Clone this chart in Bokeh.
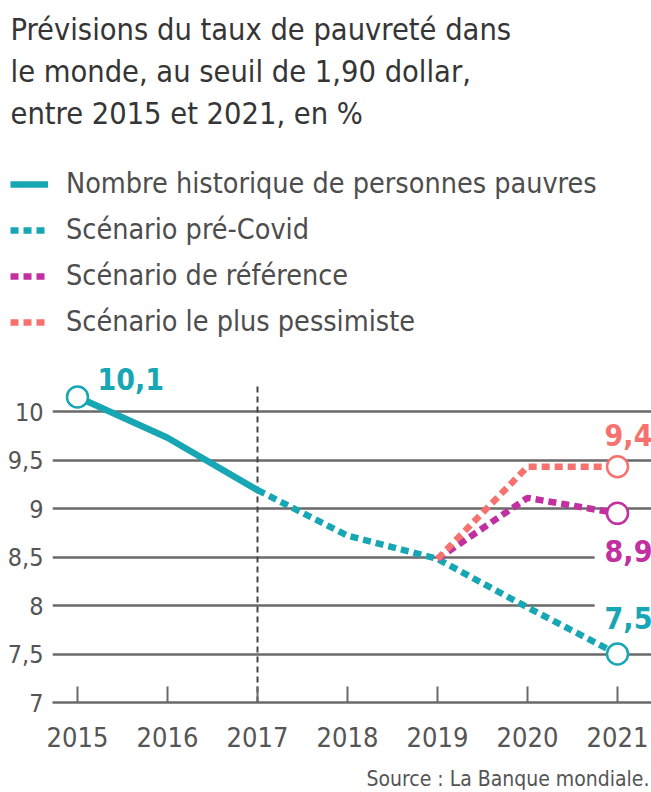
from bokeh.plotting import figure
from bokeh.layouts import column
from bokeh.models import Range1d, FixedTicker, Label, Legend, LegendItem
from bokeh.core.properties import value
from bokeh.embed import file_html
from bokeh.resources import INLINE

# ---------------- data ----------------
title_lines = ["Prévisions du taux de pauvreté dans",
               "le monde, au seuil de 1,90 dollar,",
               "entre 2015 et 2021, en %"]
legend_labels = ["Nombre historique de personnes pauvres",
                 "Scénario pré-Covid",
                 "Scénario de référence",
                 "Scénario le plus pessimiste"]
source_text = "Source : La Banque mondiale."

years_hist = [2015, 2016, 2017]
historical = [10.15, 9.73, 9.19]
years_pre = [2017, 2018, 2019, 2020, 2021]
pre_covid = [9.19, 8.72, 8.48, 7.98, 7.50]
years_scen = [2019, 2020, 2021]
reference = [8.48, 9.11, 8.95]
pessimist = [8.48, 9.43, 9.43]

label_hist = "10,1"
label_pre = "7,5"
label_ref = "8,9"
label_pess = "9,4"

x_ticks = [2015, 2016, 2017, 2018, 2019, 2020, 2021]
y_ticks = [7, 7.5, 8, 8.5, 9, 9.5, 10]
y_tick_labels = ["7", "7,5", "8", "8,5", "9", "9,5", "10"]
split_year = 2017

# ---------------- style ----------------
TEAL = "#17a6b4"
MAGENTA = "#c12fa0"
SALMON = "#f7726e"
GRID = "#6a6a6a"
FONT = "DejaVu Sans Condensed"
W = 651
H_TOP, H_CHART, H_BOT = 348, 412, 32
LW = 6.5
DASH = "8 5"


def blank(h):
    f = figure(width=W, height=h, output_backend="svg", toolbar_location=None,
               x_range=Range1d(0, W), y_range=Range1d(0, h),
               x_axis_type=None, y_axis_type=None,
               min_border=0, min_border_left=0, min_border_right=0,
               min_border_top=0, min_border_bottom=0)
    f.grid.visible = False
    f.outline_line_color = None
    f.background_fill_color = "white"
    f.border_fill_color = "white"
    f.frame_align = False
    return f


# ---------------- header: title + legend ----------------
top = blank(H_TOP)
for i, t in enumerate(title_lines):
    top.add_layout(Label(x=10, y=H_TOP - 29 - 42 * i, text=t, text_font=FONT,
                         text_font_size="30.5px", text_color="#353535",
                         text_baseline="alphabetic"))

# legend sample renderers (kept outside the visible range)
off_x, off_y = [-100, -90], [-100, -100]
lg_hist = top.line(off_x, off_y, line_color=TEAL, line_width=LW)
lg_pre = top.line(off_x, off_y, line_color=TEAL, line_width=LW, line_dash=DASH)
lg_ref = top.line(off_x, off_y, line_color=MAGENTA, line_width=LW, line_dash=DASH)
lg_pess = top.line(off_x, off_y, line_color=SALMON, line_width=LW, line_dash=DASH)
legend = Legend(items=[LegendItem(label=legend_labels[0], renderers=[lg_hist]),
                       LegendItem(label=legend_labels[1], renderers=[lg_pre]),
                       LegendItem(label=legend_labels[2], renderers=[lg_ref]),
                       LegendItem(label=legend_labels[3], renderers=[lg_pess])],
                location=(10, 10), orientation="vertical",
                glyph_width=38, glyph_height=30, label_height=30,
                label_standoff=18, spacing=13, padding=0, margin=0,
                border_line_color=None, background_fill_alpha=0,
                label_text_font=FONT, label_text_font_size="28.5px",
                label_text_color="#4d4d4d")
top.add_layout(legend)

# ---------------- chart ----------------
p = figure(width=W, height=H_CHART, output_backend="svg", toolbar_location=None,
           x_range=Range1d(2014.7222, 2021.3778), y_range=Range1d(7, 10.6495),
           min_border_left=52, min_border_right=0, min_border_top=0,
           min_border_bottom=58)
p.frame_align = False
p.outline_line_color = None
p.background_fill_color = "white"
p.border_fill_color = "white"

p.xaxis.ticker = FixedTicker(ticks=x_ticks)
p.xaxis.axis_line_color = GRID
p.xaxis.axis_line_width = 2.5
p.xaxis.major_tick_in = 16
p.xaxis.major_tick_out = 0
p.xaxis.major_tick_line_color = GRID
p.xaxis.major_tick_line_width = 2
p.xaxis.minor_tick_line_color = None
p.xaxis.major_label_text_font = FONT
p.xaxis.major_label_text_font_size = "27px"
p.xaxis.major_label_text_color = "#555555"
p.xaxis.major_label_standoff = 24

p.yaxis.ticker = FixedTicker(ticks=y_ticks)
p.yaxis.major_label_overrides = {t: l for t, l in zip(y_ticks, y_tick_labels)}
p.yaxis.axis_line_color = None
p.yaxis.major_tick_line_color = None
p.yaxis.minor_tick_line_color = None
p.yaxis.major_label_text_font = FONT
p.yaxis.major_label_text_font_size = "25px"
p.yaxis.major_label_text_color = "#555555"
p.yaxis.major_label_standoff = 3

p.xgrid.grid_line_color = None
p.ygrid.ticker = FixedTicker(ticks=y_ticks)
p.ygrid.grid_line_color = GRID
p.ygrid.grid_line_width = 2.5

p.segment(x0=[split_year], y0=[y_ticks[0]], x1=[split_year], y1=[10.29],
          line_color="#444444", line_width=2, line_dash="6 4")

p.line(years_hist, historical, line_color=TEAL, line_width=LW,
       line_join="round", line_cap="round")
p.line(years_pre, pre_covid, line_color=TEAL, line_width=LW, line_dash=DASH)
p.line(years_scen, reference, line_color=MAGENTA, line_width=LW, line_dash=DASH)
p.line(years_scen, pessimist, line_color=SALMON, line_width=LW, line_dash=DASH)

for xs, ys, c in [([years_hist[0]], [historical[0]], TEAL),
                  ([years_pre[-1]], [pre_covid[-1]], TEAL),
                  ([years_scen[-1]], [reference[-1]], MAGENTA),
                  ([years_scen[-1]], [pessimist[-1]], SALMON)]:
    p.scatter(xs, ys, marker="circle", size=21, fill_color="white",
              line_color=c, line_width=2.5)

common = dict(text_font=value(FONT), text_font_style="bold",
              text_font_size="30px", text_baseline="middle")
p.text(x=[years_hist[0]], y=[historical[0]], text=[label_hist],
       text_color=TEAL, text_align="left", x_offset=20, y_offset=-18, **common)
p.text(x=[years_scen[-1]], y=[pessimist[-1]], text=[label_pess],
       text_color=SALMON, text_align="center", x_offset=11, y_offset=-32, **common)
p.text(x=[years_scen[-1]], y=[reference[-1]], text=[label_ref],
       text_color=MAGENTA, text_align="center", x_offset=11, y_offset=38,
       background_fill_color="white", padding=10, **common)
p.text(x=[years_pre[-1]], y=[pre_covid[-1]], text=[label_pre],
       text_color=TEAL, text_align="center", x_offset=11, y_offset=-36,
       background_fill_color="white", padding=10, **common)

# ---------------- footer: source ----------------
bot = blank(H_BOT)
bot.add_layout(Label(x=W - 2, y=14, text=source_text, text_font=FONT,
                     text_font_size="21px", text_color="#555555",
                     text_align="right", text_baseline="alphabetic"))

layout = column(top, p, bot, spacing=0)
open("out.html", "w").write(file_html(layout, INLINE))
